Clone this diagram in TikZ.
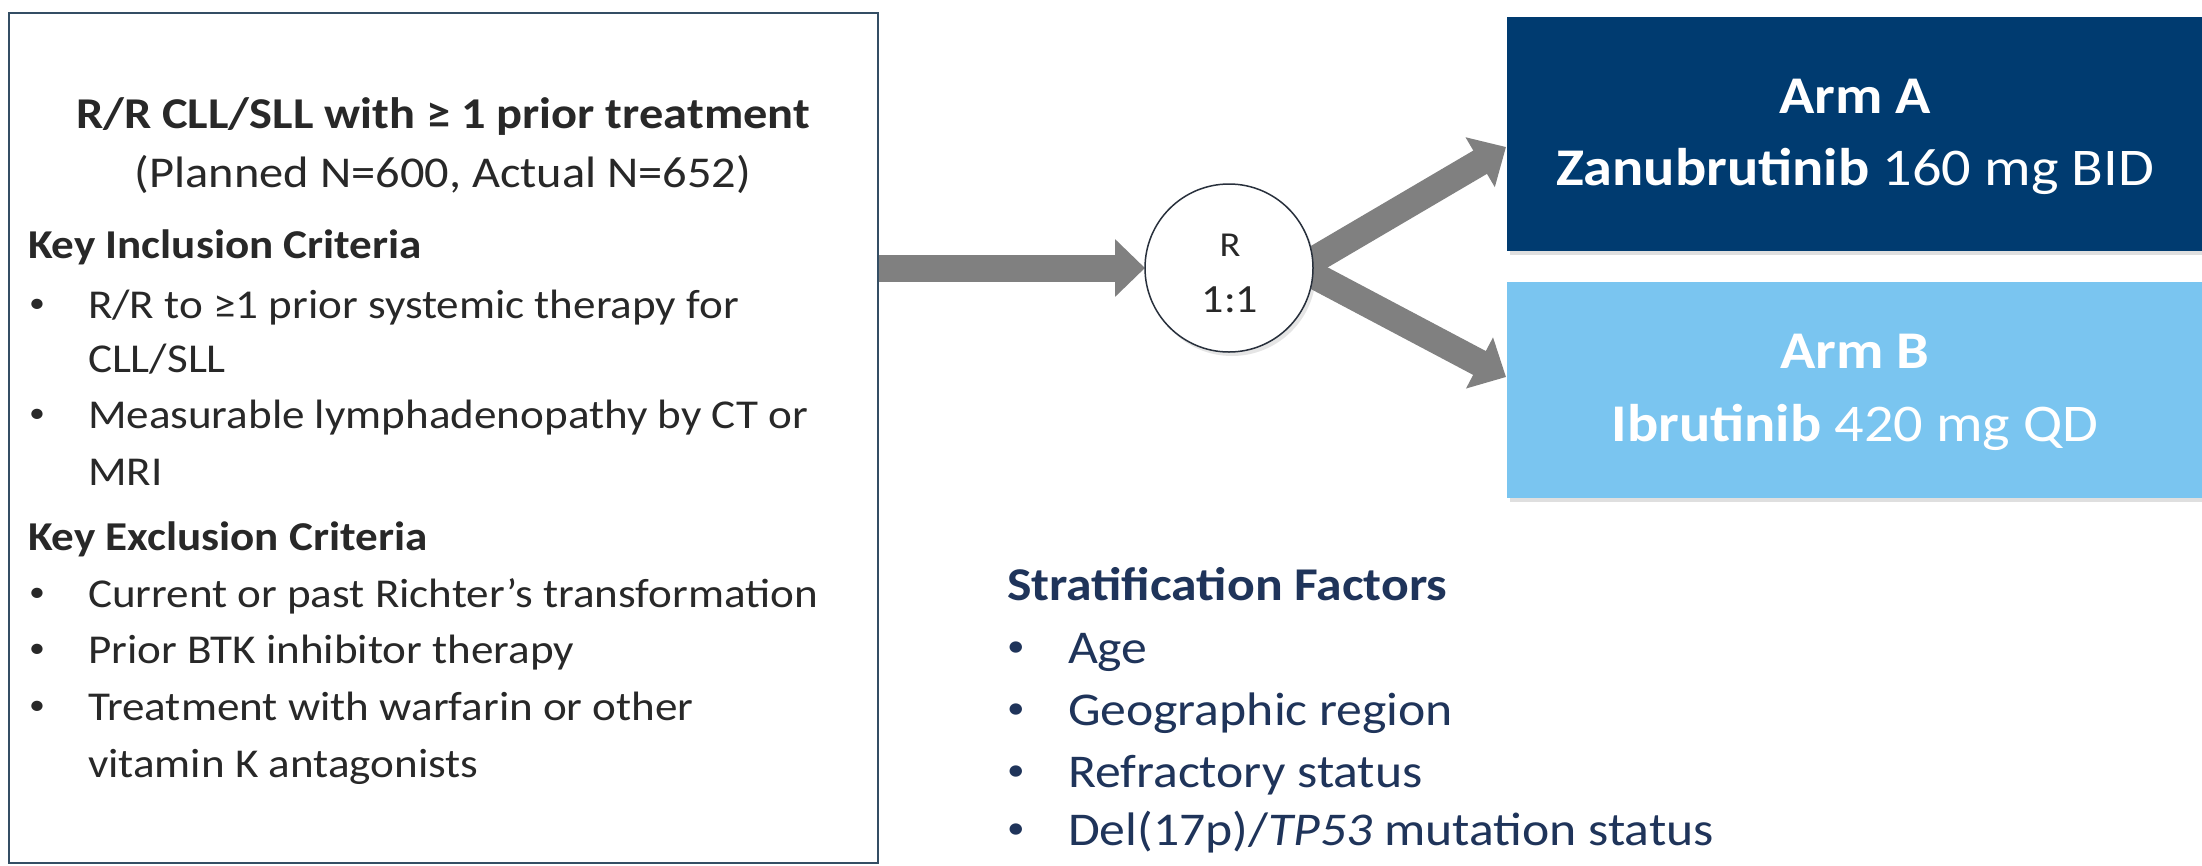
\documentclass[tikz,border=0pt]{standalone}
\usepackage{fontspec}
\setmainfont{Carlito}[FakeStretch=1.1]
\usetikzlibrary{arrows.meta,shadows,backgrounds}
\definecolor{navy}{RGB}{0,59,112}
\definecolor{lightblue}{RGB}{122,197,240}
\definecolor{arrowgray}{RGB}{128,128,128}
\definecolor{textnavy}{RGB}{31,52,90}
\definecolor{bodygray}{RGB}{40,40,40}
\definecolor{boxline}{RGB}{52,78,100}
\definecolor{circline}{RGB}{40,48,60}
\begin{document}
\begin{tikzpicture}[x=1pt,y=-1pt,
 every node/.style={inner sep=0pt, outer sep=0pt},
 body/.style={anchor=base west, text=bodygray, font=\fontsize{41}{50}\selectfont},
 bodyhead/.style={anchor=base west, text=bodygray, font=\fontsize{41}{50}\selectfont\bfseries},
 bul/.style={anchor=base, text=bodygray, font=\fontsize{29}{36}\selectfont, yshift=6pt},
 ttl/.style={anchor=base, text=bodygray, font=\fontsize{44}{52}\selectfont},
 strat/.style={anchor=base west, text=textnavy, font=\fontsize{47}{60}\selectfont},
 sbul/.style={anchor=base, text=textnavy, font=\fontsize{32}{40}\selectfont, yshift=7pt},
 armtext/.style={anchor=base, text=white, font=\fontsize{53}{64}\selectfont},
 circtext/.style={anchor=base, text=bodygray},
 armbox/.style={anchor=north west, minimum width=695pt, draw=none,
   drop shadow={shadow xshift=3pt, shadow yshift=-4pt, opacity=0.25}},
 bigarrow/.style={draw=arrowgray, line width=27pt, -{Triangle[length=30pt,width=56pt]}},
]
\useasboundingbox (0,0) rectangle (2202,865);

% left box
\node[draw=boxline, line width=2pt, minimum width=869pt, minimum height=850pt, anchor=north west] (screen) at (9,13) {};
\node[ttl, font=\fontsize{44}{52}\selectfont\bfseries] (t1) at (443,128) {R/R CLL/SLL with ≥ 1 prior treatment};
\node[ttl] (t2) at (443,187) {(Planned N=600, Actual N=652)};
\node[bodyhead] (inc) at (28,258) {Key Inclusion Criteria};
\node[bul] (b1) at (37,318) {•};
\node[body] (i1a) at (88,318) {R/R to ≥1 prior systemic therapy for};
\node[body] (i1b) at (88,372) {CLL/SLL};
\node[bul] (b2) at (37,428) {•};
\node[body] (i2a) at (88,428) {Measurable lymphadenopathy by CT or};
\node[body] (i2b) at (88,485) {MRI};
\node[bodyhead] (exc) at (28,550) {Key Exclusion Criteria};
\node[bul] (b3) at (37,607) {•};
\node[body] (e1) at (88,607) {Current or past Richter’s transformation};
\node[bul] (b4) at (37,663) {•};
\node[body] (e2) at (88,663) {Prior BTK inhibitor therapy};
\node[bul] (b5) at (37,720) {•};
\node[body] (e3a) at (88,720) {Treatment with warfarin or other};
\node[body] (e3b) at (88,777) {vitamin K antagonists};

% randomisation circle
\node[circle, draw=circline, line width=1.5pt, fill=white, minimum size=168pt,
  drop shadow={shadow xshift=3pt, shadow yshift=-4pt, opacity=0.2}] (rand) at (1229,268) {};
\node[circtext, font=\fontsize{35}{42}\selectfont] (r1) at (1230,256) {R};
\node[circtext, font=\fontsize{40}{48}\selectfont] (r2) at (1230,312) {1:1};
\coordinate (fork) at (1300,268);

% arms
\node[armbox, fill=navy, minimum height=234pt] (armA) at (1507,17) {};
\node[armtext] (a1) at (1855,113) {\bfseries Arm A};
\node[armtext] (a2) at (1855,185) {\bfseries Zanubrutinib\mdseries\ 160 mg BID};
\node[armbox, fill=lightblue, minimum height=216pt] (armB) at (1507,282) {};
\node[armtext] (bb1) at (1855,368) {\bfseries Arm B};
\node[armtext] (bb2) at (1855,441) {\bfseries Ibrutinib\mdseries\ 420 mg QD};
\coordinate (tipA) at (1506,147);
\coordinate (tipB) at (1506,377);

% stratification
\node[strat, font=\fontsize{47}{60}\selectfont\bfseries] (sf) at (1007,600) {Stratification Factors};
\node[sbul] (s1b) at (1016,663) {•};
\node[strat] (s1) at (1068,663) {Age};
\node[sbul] (s2b) at (1016,725) {•};
\node[strat] (s2) at (1068,725) {Geographic region};
\node[sbul] (s3b) at (1016,787) {•};
\node[strat] (s3) at (1068,787) {Refractory status};
\node[sbul] (s4b) at (1016,845) {•};
\node[strat] (s4) at (1068,845) {Del(17p)/\textit{TP53} mutation status};

\begin{scope}[on background layer]
\fill[white] (0,0) rectangle (2202,865);
\draw[bigarrow] (screen.east |- rand.west) -- (rand.west);
\draw[bigarrow] (fork) -- (tipA);
\draw[bigarrow] (fork) -- (tipB);
\end{scope}
\end{tikzpicture}
\end{document}
